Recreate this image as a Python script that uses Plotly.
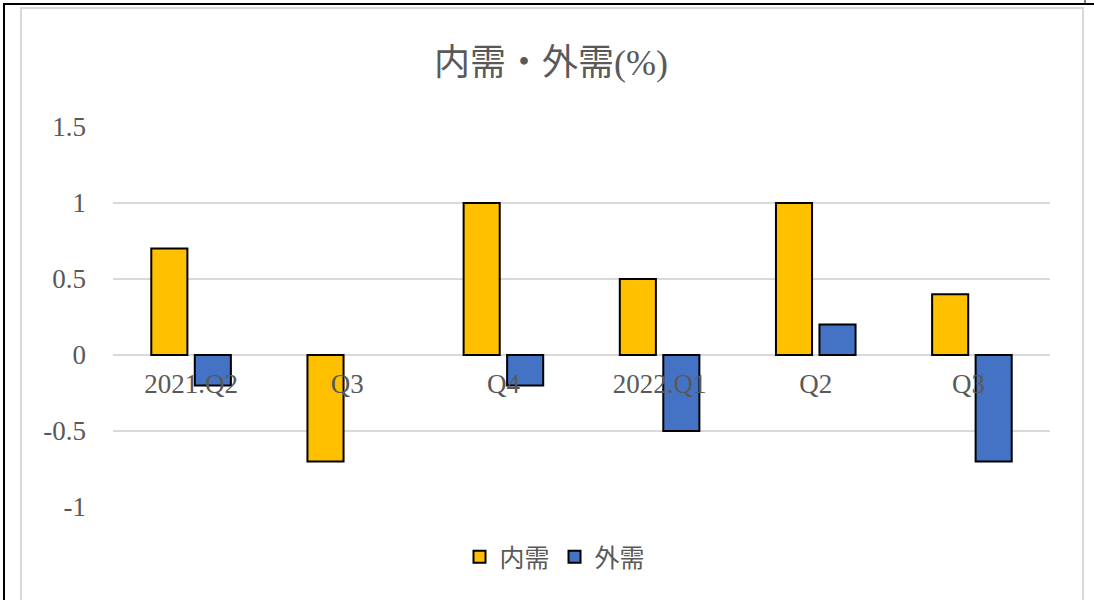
import plotly.graph_objects as go

categories = ["2021.Q2", "Q3", "Q4", "2022.Q1", "Q2", "Q3 "]
domestic = [0.7, -0.7, 1.0, 0.5, 1.0, 0.4]
external = [-0.2, None, -0.2, -0.5, 0.2, -0.7]
y_ticks = [1.5, 1, 0.5, 0, -0.5, -1]
y_tick_labels = ["1.5", "1", "0.5", "0", "-0.5", "-1"]

FONT = "Liberation Serif, Noto Sans CJK JP, serif"
GRAY = "#595959"

fig = go.Figure()
fig.add_trace(go.Bar(name="内需", x=categories, y=domestic,
                     marker=dict(color="#FFC000", line=dict(color="black", width=2))))
fig.add_trace(go.Bar(name="外需", x=categories, y=external,
                     marker=dict(color="#4472C4", line=dict(color="black", width=2))))

L, R, T, B = 113, 1050, 127, 507
W, H = 1094, 600

def px(x):
    return (x - L) / (R - L)

def py(y):
    return (B - y) / (B - T)

shapes = [
    dict(type="rect", xref="paper", yref="paper", x0=px(21), x1=px(1083), y0=py(8), y1=py(620),
         line=dict(color="#D9D9D9", width=2), layer="below"),
    dict(type="line", xref="paper", yref="paper", x0=px(4), x1=px(4), y0=py(3), y1=py(620),
         line=dict(color="black", width=2)),
    dict(type="line", xref="paper", yref="paper", x0=px(3), x1=px(1100), y0=py(4), y1=py(4),
         line=dict(color="black", width=2)),
    dict(type="line", xref="paper", yref="paper", x0=px(1085), x1=px(1085), y0=py(-2), y1=py(4),
         line=dict(color="black", width=1)),
]

fig.update_layout(
    width=W, height=H,
    margin=dict(l=L, r=W - R, t=T, b=H - B, autoexpand=False),
    paper_bgcolor="white", plot_bgcolor="white",
    barmode="group", bargap=0.443, bargroupgap=0.17,
    title=dict(text="内需・外需(%)", x=551 / W, xref="container", xanchor="center",
               y=1 - 62 / H, yref="container", yanchor="middle",
               font=dict(family=FONT, size=36, color=GRAY)),
    font=dict(family=FONT, color=GRAY, size=27),
    showlegend=True,
    legend=dict(orientation="h", x=px(555), xanchor="center", y=py(557), yanchor="middle",
                font=dict(family=FONT, size=25, color=GRAY), itemwidth=30),
    shapes=shapes,
    xaxis=dict(anchor="free", position=0.4, showline=False, ticks="", showgrid=False,
               tickfont=dict(family=FONT, size=27, color=GRAY), ticklabelstandoff=10),
    yaxis=dict(range=[-1, 1.5], tickvals=y_ticks, ticktext=y_tick_labels,
               showgrid=True, gridcolor="#D9D9D9", gridwidth=2,
               zeroline=True, zerolinecolor="#D9D9D9", zerolinewidth=2,
               showline=False, ticks="", ticklabelstandoff=26,
               tickfont=dict(family=FONT, size=27, color=GRAY)),
)

fig.write_html("out.html", config={"displayModeBar": False},
               post_script="document.body.style.margin='0';")
